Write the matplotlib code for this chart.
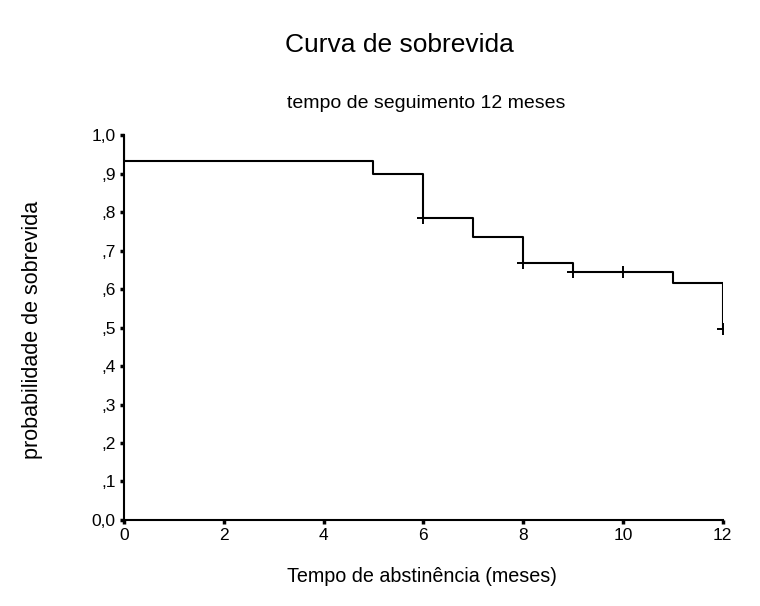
import matplotlib
matplotlib.use("Agg")
import matplotlib.pyplot as plt

plt.rcParams['font.family'] = ['Liberation Sans', 'DejaVu Sans']

# Kaplan-Meier estimate: event times and survival after each step
event_times = [0, 0, 5, 6, 7, 8, 9, 11, 12]
survival = [1.0, 0.933, 0.900, 0.784, 0.735, 0.669, 0.644, 0.616, 0.495]

# censored observations
censor_times = [6, 8, 9, 10, 12]
censor_surv = [0.784, 0.669, 0.644, 0.644, 0.495]

x_ticks = [0, 2, 4, 6, 8, 10, 12]
y_ticks = [0.0, 0.1, 0.2, 0.3, 0.4, 0.5, 0.6, 0.7, 0.8, 0.9, 1.0]
y_labels = ['0,0', ',1', ',2', ',3', ',4', ',5', ',6', ',7', ',8', ',9', '1,0']

fig = plt.figure(figsize=(7.6, 6.06), dpi=100)
ax = fig.add_axes([0.163, 0.142, 0.788, 0.635])

ax.step(event_times, survival, where='post', color='black', lw=1.5)
ax.plot(censor_times, censor_surv, ls='none', marker='+', ms=9, mew=1.4, color='black')

ax.set_xlim(0, 12)
ax.set_ylim(0, 1.0)
ax.set_xticks(x_ticks)
ax.set_xticklabels([str(t) for t in x_ticks])
ax.set_yticks(y_ticks)
ax.set_yticklabels(y_labels)

for side in ['top', 'right']:
    ax.spines[side].set_visible(False)
for side in ['left', 'bottom']:
    ax.spines[side].set_linewidth(1.5)
ax.tick_params(length=3, width=2.5, labelsize=12.5, pad=3)

fig.text(0.043, 0.456, 'probabilidade de sobrevida', rotation=90,
         ha='center', va='center', fontsize=15.5)
fig.text(0.555, 0.048, 'Tempo de abstinência (meses)', ha='center', va='center', fontsize=14.2)

fig.text(0.526, 0.925, 'Curva de sobrevida', ha='center', va='center', fontsize=19)
fig.text(0.561, 0.83, 'tempo de seguimento 12 meses', ha='center', va='center', fontsize=14)

fig.savefig('out.png', dpi=100, facecolor='white')
